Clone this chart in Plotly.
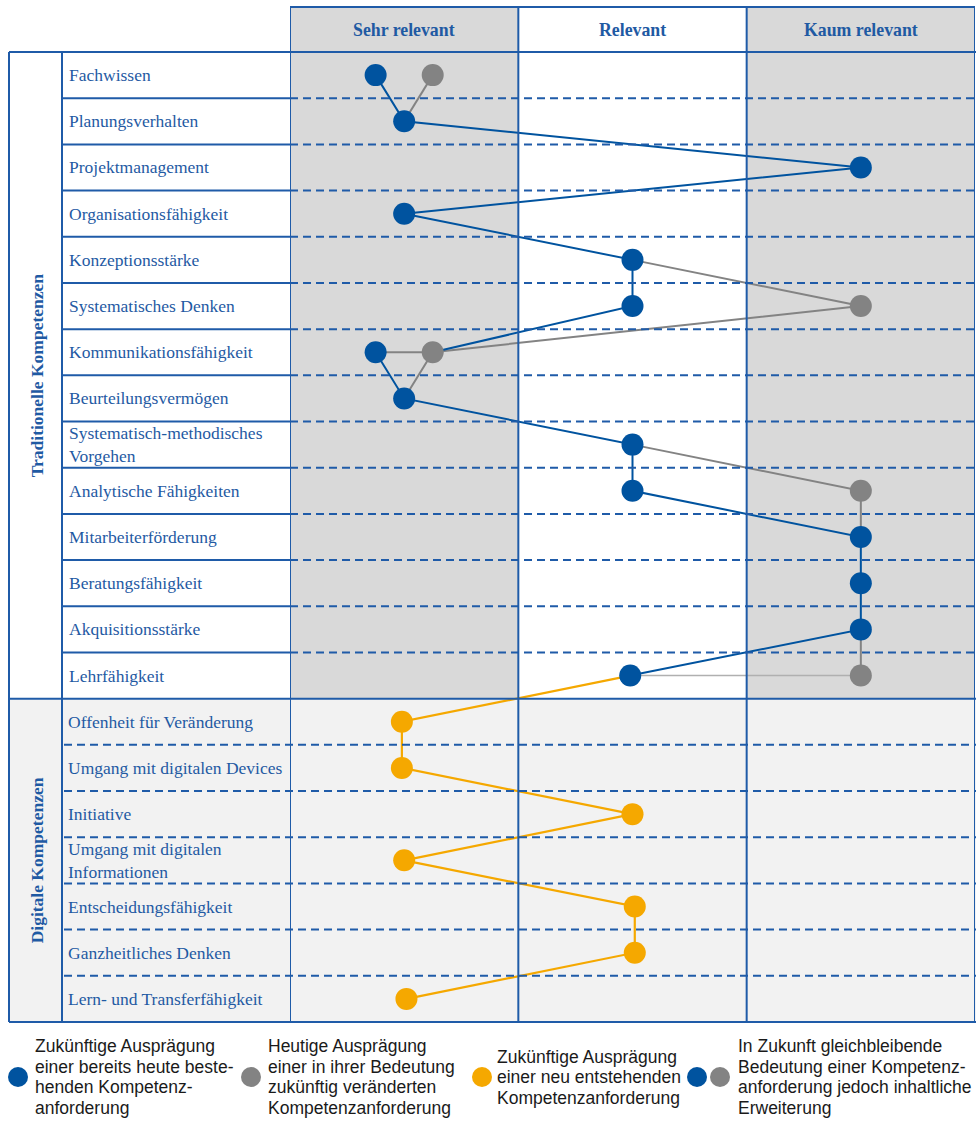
import plotly.graph_objects as go

# ---------------- data ----------------
columns = ["Sehr relevant", "Relevant", "Kaum relevant"]

groups = ["Traditionelle Kompetenzen", "Digitale Kompetenzen"]

rows_trad = ["Fachwissen", "Planungsverhalten", "Projektmanagement",
             "Organisationsfähigkeit", "Konzeptionsstärke", "Systematisches Denken",
             "Kommunikationsfähigkeit", "Beurteilungsvermögen",
             "Systematisch-methodisches<br>Vorgehen", "Analytische Fähigkeiten",
             "Mitarbeiterförderung", "Beratungsfähigkeit", "Akquisitionsstärke",
             "Lehrfähigkeit"]
rows_dig = ["Offenheit für Veränderung", "Umgang mit digitalen Devices", "Initiative",
            "Umgang mit digitalen<br>Informationen", "Entscheidungsfähigkeit",
            "Ganzheitliches Denken", "Lern- und Transferfähigkeit"]

# position on the relevance scale (1 = Sehr relevant, 2 = Relevant, 3 = Kaum relevant)
future = [0.875, 1, 3, 1, 2, 2, 0.875, 1, 2, 2, 3, 3, 3, 1.99]          # blue dots
today = [1.125, None, None, None, None, 3, 1.125, None, None, 3, None, None, None, 3]  # grey dots
digital = [0.99, 0.99, 2.0, 1.0, 2.01, 2.01, 1.01]                       # orange dots

# connections: (row index, source) ; f = future, t = today, d = digital
blue_paths = [[(0, 'f'), (1, 'f'), (2, 'f'), (3, 'f'), (4, 'f'), (5, 'f'), (6, 't')],
              [(6, 'f'), (7, 'f'), (8, 'f'), (9, 'f'), (10, 'f'), (11, 'f'), (12, 'f'), (13, 'f')]]
grey_paths = [[(0, 't'), (1, 'f')],
              [(4, 'f'), (5, 't'), (6, 't'), (7, 'f')],
              [(6, 'f'), (6, 't')],
              [(8, 'f'), (9, 't'), (10, 'f')],
              [(12, 'f'), (13, 't')]]
light_paths = [[(13, 'f'), (13, 't')]]
orange_paths = [[(13, 'f')] + [(14 + i, 'd') for i in range(len(rows_dig))]]

legend_items = [
    ["Zukünftige Ausprägung", "einer bereits heute beste-", "henden Kompetenz-", "anforderung"],
    ["Heutige Ausprägung", "einer in ihrer Bedeutung", "zukünftig veränderten", "Kompetenzanforderung"],
    ["Zukünftige Ausprägung", "einer neu entstehenden", "Kompetenzanforderung"],
    ["In Zukunft gleichbleibende", "Bedeutung einer Kompetenz-", "anforderung jedoch inhaltliche", "Erweiterung"],
]

# ---------------- style ----------------
W, H = 976, 1122
BLUE = "#00539f"
GREY = "#838383"
ORANGE = "#f5a800"
LC = "#1f5ba8"
TXT = "#1f5aa3"
SERIF = "Liberation Serif, Times New Roman, serif"
SANS = "Liberation Sans, Arial, sans-serif"


def X(px):
    return px / W


def Y(py):
    return 1 - py / H


n_rows = len(rows_trad) + len(rows_dig)
n_trad = len(rows_trad)


def pt(row, src):
    if src == 'f':
        return future[row], row
    if src == 't':
        return today[row], row
    return digital[row - n_trad], row


def path_xy(paths):
    xs, ys = [], []
    for p in paths:
        for r, s in p:
            x, y = pt(r, s)
            xs.append(x)
            ys.append(y)
        xs.append(None)
        ys.append(None)
    return xs, ys


fig = go.Figure()

for paths, col, w in [(grey_paths, GREY, 2), (light_paths, "#b0b0b0", 1.5),
                      (blue_paths, BLUE, 2), (orange_paths, ORANGE, 2.2)]:
    xs, ys = path_xy(paths)
    fig.add_trace(go.Scatter(x=xs, y=ys, mode="lines", line=dict(color=col, width=w),
                             hoverinfo="skip", showlegend=False, cliponaxis=False))

# dots
tx = [v for v in today if v is not None]
ty = [i for i, v in enumerate(today) if v is not None]
fig.add_trace(go.Scatter(x=tx, y=ty, mode="markers", marker=dict(size=22, color=GREY),
                         showlegend=False, cliponaxis=False))
fig.add_trace(go.Scatter(x=future, y=list(range(n_trad)), mode="markers",
                         marker=dict(size=22, color=BLUE), showlegend=False, cliponaxis=False))
fig.add_trace(go.Scatter(x=digital, y=list(range(n_trad, n_rows)), mode="markers",
                         marker=dict(size=22, color=ORANGE), showlegend=False, cliponaxis=False))

# ---------------- table geometry ----------------
TOP, HEAD, BOT = 7, 52, 1022
LEFT, GCOL = 9, 62
shapes = []

# backgrounds
shapes.append(dict(type="rect", xref="paper", yref="y", x0=X(LEFT), x1=1,
                   y0=n_trad - 0.5, y1=n_rows - 0.5, fillcolor="#f2f2f2", line_width=0, layer="below"))
for c in (0, 2):
    shapes.append(dict(type="rect", xref="x", yref="y", x0=c + 0.5, x1=c + 1.5,
                       y0=-0.5, y1=n_trad - 0.5, fillcolor="#d9d9d9", line_width=0, layer="below"))
    shapes.append(dict(type="rect", xref="x", yref="paper", x0=c + 0.5, x1=c + 1.5,
                       y0=Y(HEAD), y1=Y(TOP), fillcolor="#d9d9d9", line_width=0, layer="below"))

ln = dict(color=LC, width=2)
dl = dict(color=LC, width=2, dash="8px,5px")

# row separators
for i in range(n_rows - 1):
    b = i + 0.5
    if i == n_trad - 1:
        shapes.append(dict(type="line", xref="paper", yref="y", x0=X(LEFT), x1=1, y0=b, y1=b, line=ln))
    elif i < n_trad - 1:
        shapes.append(dict(type="line", xref="paper", yref="y", x0=X(GCOL), x1=X(290), y0=b, y1=b, line=ln))
        shapes.append(dict(type="line", xref="paper", yref="y", x0=X(290), x1=1, y0=b, y1=b, line=dl))
    else:
        shapes.append(dict(type="line", xref="paper", yref="y", x0=X(GCOL + 2), x1=1, y0=b, y1=b, line=dl))

# horizontal frame
shapes.append(dict(type="line", xref="paper", yref="paper", x0=X(LEFT), x1=1, y0=Y(HEAD), y1=Y(HEAD), line=ln))
shapes.append(dict(type="line", xref="paper", yref="paper", x0=X(LEFT), x1=1, y0=Y(BOT), y1=Y(BOT), line=ln))
shapes.append(dict(type="line", xref="x", yref="paper", x0=0.5, x1=3.5, y0=Y(TOP), y1=Y(TOP), line=ln))
# vertical frame
for c in range(4):
    shapes.append(dict(type="line", xref="x", yref="paper", x0=c + 0.5, x1=c + 0.5,
                       y0=Y(BOT), y1=Y(TOP), line=ln))
for px in (LEFT, GCOL):
    shapes.append(dict(type="line", xref="paper", yref="paper", x0=X(px), x1=X(px),
                       y0=Y(BOT), y1=Y(HEAD), line=ln))

# legend circles
leg_circles = [(18, BLUE), (251, GREY), (482, ORANGE), (697, BLUE), (720, GREY)]
for cx, col in leg_circles:
    r = 10
    shapes.append(dict(type="circle", xref="paper", yref="paper", x0=X(cx - r), x1=X(cx + r),
                       y0=Y(1077 + r), y1=Y(1077 - r), fillcolor=col, line_width=0))

annotations = []
# column headers
for i, c in enumerate(columns):
    annotations.append(dict(text="<b>%s</b>" % c, x=i + 1, xref="x", y=Y(30), yref="paper",
                            xanchor="center", yanchor="middle", showarrow=False,
                            font=dict(family=SERIF, size=17.8, color=TXT)))
# row labels
for i, lab in enumerate(rows_trad + rows_dig):
    annotations.append(dict(text=lab, x=X(67 if i < n_trad else 66), xref="paper", y=i, yref="y",
                            xanchor="left", yanchor="middle", align="left", showarrow=False,
                            font=dict(family=SERIF, size=17.5, color=TXT)))
# group labels
annotations.append(dict(text="<b>%s</b>" % groups[0], textangle=-90, x=X(37), xref="paper",
                        y=(n_trad - 1) / 2, yref="y", xanchor="center", yanchor="middle",
                        showarrow=False, font=dict(family=SERIF, size=17.5, color=TXT)))
annotations.append(dict(text="<b>%s</b>" % groups[1], textangle=-90, x=X(37), xref="paper",
                        y=n_trad + (len(rows_dig) - 1) / 2, yref="y", xanchor="center",
                        yanchor="middle", showarrow=False,
                        font=dict(family=SERIF, size=17.5, color=TXT)))
# legend texts
leg_x = [33, 266, 495, 736]
for lx, lines in zip(leg_x, legend_items):
    n = len(lines)
    for k, t in enumerate(lines):
        cy = 1077 + (k - (n - 1) / 2) * 20.5
        annotations.append(dict(text=t, x=X(lx), xref="paper", y=Y(cy), yref="paper",
                                xanchor="left", yanchor="middle", showarrow=False,
                                font=dict(family=SANS, size=17.5, color="#1a1a1a")))

fig.update_layout(
    width=W, height=H, autosize=False,
    margin=dict(l=0, r=0, t=0, b=0),
    paper_bgcolor="white", plot_bgcolor="rgba(0,0,0,0)",
    xaxis=dict(domain=[X(290), X(975)], range=[0.5, 3.5], visible=False, fixedrange=True),
    yaxis=dict(domain=[Y(BOT), Y(HEAD)], range=[n_rows - 0.5, -0.5], visible=False, fixedrange=True),
    shapes=shapes, annotations=annotations, showlegend=False,
)

fig.write_html("out.html", config={"displayModeBar": False},
               post_script="document.body.style.margin='0px';document.body.style.overflow='hidden';")
